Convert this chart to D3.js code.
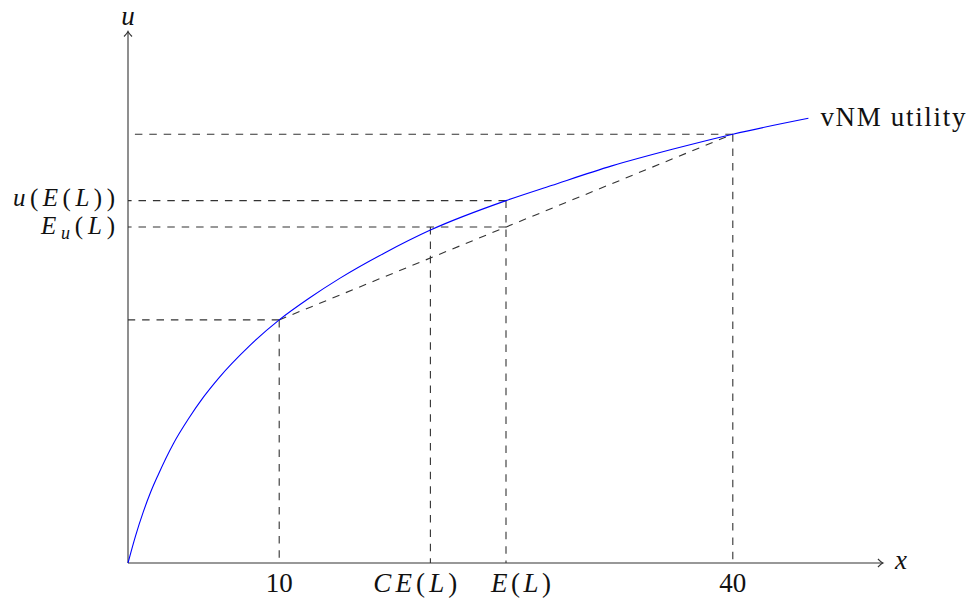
<!DOCTYPE html>
<html lang="en">
<head>
    <meta charset="utf-8">
    <script type="application/javascript" src="https://d3js.org/d3.v7.min.js"></script>
    <style>
        body {
            margin: 0;
            background: white;
        }

        text {
            font-family: "Liberation Serif", "DejaVu Serif", serif;
            font-size: 27px;
            fill: #111;
        }

        .ylabel {
            font-size: 25px;
        }

        .axis-line {
            fill: none;
            stroke: #333;
            stroke-width: 1.1px;
        }

        .guide {
            fill: none;
            stroke: #333;
            stroke-width: 1.1px;
            stroke-dasharray: 7.5 6.9;
        }

        .utility {
            fill: none;
            stroke: #0000ff;
            stroke-width: 1.1px;
        }
    </style>
</head>
<body>
<script type="application/javascript">
    // points (x = wealth, u = utility)
    let curveX = [0, 0.5, 1, 1.5, 2, 3, 4, 5, 6, 8, 10, 12, 14, 17, 20, 25, 28, 32, 36, 40, 45];
    let curveU = [0, 0.18, 0.335, 0.47, 0.585, 0.79, 0.955, 1.10, 1.225, 1.435, 1.61, 1.755, 1.885,
        2.055, 2.205, 2.40, 2.50, 2.63, 2.74, 2.84, 2.945];

    // lottery: outcomes 10 and 40, expected value, certainty equivalent
    let lowX = 10, highX = 40, expX = 25, ceX = 20;
    let lowU = 1.61, highU = 2.84, uOfExp = 2.40, expU = 2.225;

    // tick labels
    let xTickPos = [10, 19, 26, 40];
    let xTickText = ['10', 'CE(L)', 'E(L)', '40'];
    let xTickWidth = [0, 84, 60, 0];
    let yTickPos = [uOfExp, expU];
    let yTickText = ['u(E(L))', 'E_u(L)'];
    let yTickWidth = [102, 74];
    let yTickShift = [5.5, 7];

    let width = 974, height = 609;
    let x = d3.scaleLinear().domain([0, 50]).range([128, 884]);
    let y = d3.scaleLinear().domain([0, 3.52]).range([563, 31.5]);

    let svg = d3.select('body').append('svg')
        .attr('width', width).attr('height', height);

    // writes a small math string: letters italic, "_c" a subscript
    function mathText(sel, str) {
        let shift = 0;
        for (let i = 0; i < str.length; i++) {
            let c = str[i];
            if (c === '_') {
                sel.append('tspan').text(str[i + 1])
                    .attr('font-style', 'italic').attr('font-size', '18px').attr('dy', 5);
                shift = -5;
                i++;
            } else {
                let t = sel.append('tspan').text(c)
                    .attr('font-style', /[A-Za-z]/.test(c) ? 'italic' : 'normal');
                if (shift) t.attr('dy', shift);
                shift = 0;
            }
        }
    }

    // dashed guide lines, drawn from the point toward the axes
    let guides = [
        [[highX, highU], [0, highU]],
        [[expX, uOfExp], [0, uOfExp]],
        [[expX, expU], [0, expU]],
        [[lowX, lowU], [0, lowU]],
        [[lowX, lowU], [lowX, 0]],
        [[ceX, expU], [ceX, 0]],
        [[expX, uOfExp], [expX, 0]],
        [[highX, highU], [highX, 0]],
        [[lowX, lowU], [highX, highU]]
    ];
    svg.append('g').selectAll('path')
        .data(guides)
        .enter().append('path')
        .attr('class', 'guide')
        .attr('d', function (d) {
            return 'M' + x(d[0][0]) + ',' + y(d[0][1]) + ' L' + x(d[1][0]) + ',' + y(d[1][1]);
        });

    // axes with small arrow tips
    let x0 = x(0), y0 = y(0), xEnd = x(49.93), yEnd = y(3.52);
    svg.append('path').attr('class', 'axis-line')
        .attr('d', 'M' + x0 + ',' + y0 + ' H' + xEnd);
    svg.append('path').attr('class', 'axis-line')
        .attr('d', 'M' + x0 + ',' + y0 + ' V' + yEnd);
    svg.append('path').attr('class', 'axis-line')
        .attr('d', 'M' + (xEnd - 5) + ',' + (y0 - 4) + ' Q' + (xEnd - 1.5) + ',' + (y0 - 0.6) + ' ' + xEnd + ',' + y0 +
            ' Q' + (xEnd - 1.5) + ',' + (y0 + 0.6) + ' ' + (xEnd - 5) + ',' + (y0 + 4));
    svg.append('path').attr('class', 'axis-line')
        .attr('d', 'M' + (x0 - 4) + ',' + (yEnd + 5) + ' Q' + (x0 - 0.6) + ',' + (yEnd + 1.5) + ' ' + x0 + ',' + yEnd +
            ' Q' + (x0 + 0.6) + ',' + (yEnd + 1.5) + ' ' + (x0 + 4) + ',' + (yEnd + 5));

    // the utility curve
    let line = d3.line()
        .x(function (d, i) { return x(curveX[i]); })
        .y(function (d) { return y(d); })
        .curve(d3.curveMonotoneX);
    svg.append('path').attr('class', 'utility').attr('d', line(curveU));

    // x tick labels
    svg.append('g').selectAll('text')
        .data(xTickPos)
        .enter().append('text')
        .attr('x', function (d) { return x(d); })
        .attr('y', y0 + 29)
        .attr('text-anchor', 'middle')
        .each(function (d, i) {
            let t = d3.select(this);
            mathText(t, xTickText[i]);
            if (xTickWidth[i]) t.attr('textLength', xTickWidth[i]).attr('lengthAdjust', 'spacing');
        });

    // y tick labels
    svg.append('g').selectAll('text')
        .data(yTickPos)
        .enter().append('text')
        .attr('class', 'ylabel')
        .attr('x', x0 - 13)
        .attr('y', function (d, i) { return y(d) + yTickShift[i]; })
        .attr('text-anchor', 'end')
        .each(function (d, i) {
            let t = d3.select(this);
            mathText(t, yTickText[i]);
            t.attr('textLength', yTickWidth[i]).attr('lengthAdjust', 'spacing');
        });

    // axis names and curve label
    svg.append('text').attr('x', xEnd + 12).attr('y', y0 + 6)
        .attr('font-style', 'italic').text('x');
    svg.append('text').attr('x', x0).attr('y', yEnd - 7)
        .attr('text-anchor', 'middle').attr('font-style', 'italic').text('u');
    svg.append('text')
        .attr('x', x(curveX[curveX.length - 1]) + 12)
        .attr('y', y(curveU[curveU.length - 1]) + 8)
        .attr('textLength', 145).attr('lengthAdjust', 'spacing')
        .text('vNM utility');
</script>
</body>
</html>
